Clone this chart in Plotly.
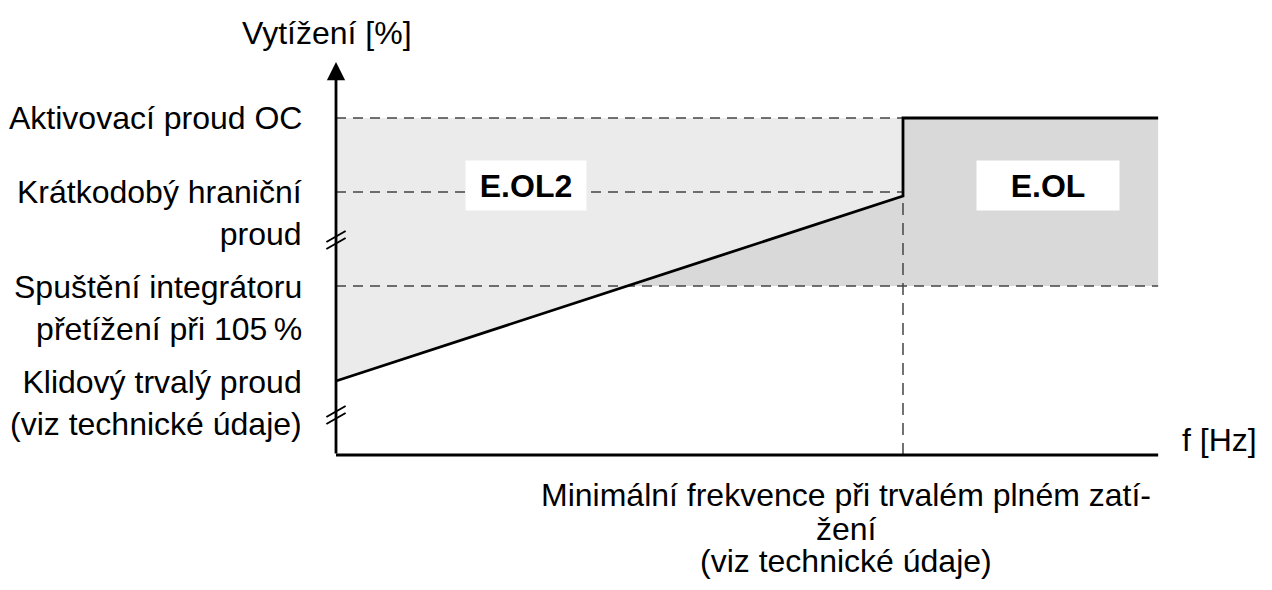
import plotly.graph_objects as go

# frequency axis (schematic units: knee frequency = 100)
f_knee = 100
f_end = 145

# load levels (schematic units)
lvl_oc = 337       # Aktivovací proud OC
lvl_short = 263    # Krátkodobý hraniční proud
lvl_int = 169      # Spuštění integrátoru přetížení při 105 %
lvl_idle = 74      # Klidový trvalý proud
knee_val = 259     # value of the slope at the knee frequency
y_top = 393        # arrow tip
breaks = [215, 40]

curve_f = [0, f_knee, f_knee, f_end]
curve_y = [lvl_idle, knee_val, lvl_oc, lvl_oc]

left_labels = [
    ("Aktivovací proud OC", lvl_oc),
    ("Krátkodobý hraniční<br>proud", 242),
    ("Spuštění integrátoru<br>přetížení při 105\u2009%", 147),
    ("Klidový trvalý proud<br>(viz technické údaje)", 52),
]
bottom_lines = ["Minimální frekvence při trvalém plném zatí-", "žení", "(viz technické údaje)"]
bottom_y = [-40, -74, -106]

FONT = "Liberation Sans, Arial, sans-serif"
FS = 32
DASH = "10px,7px"
GRID = "#444444"

fig = go.Figure()

# dark region (E.OL) under everything
fig.add_trace(go.Scatter(x=[0, f_end, f_end, 0, 0], y=[lvl_int, lvl_int, lvl_oc, lvl_oc, lvl_int],
                         fill="toself", fillcolor="#d9d9d9", line=dict(width=0), mode="lines"))
# light region (E.OL2) above the slope
fig.add_trace(go.Scatter(x=[0, f_knee, f_knee, 0, 0], y=[lvl_idle, knee_val, lvl_oc, lvl_oc, lvl_idle],
                         fill="toself", fillcolor="#ebebeb", line=dict(width=0), mode="lines"))

# dashed reference lines
for yv, xe in [(lvl_oc, f_knee), (lvl_short, f_knee), (lvl_int, f_end)]:
    fig.add_trace(go.Scatter(x=[0, xe], y=[yv, yv], mode="lines",
                             line=dict(color=GRID, width=1.5, dash=DASH)))
fig.add_trace(go.Scatter(x=[f_knee, f_knee], y=[0, knee_val], mode="lines",
                         line=dict(color=GRID, width=1.5, dash="12px,8px")))

# characteristic
fig.add_trace(go.Scatter(x=curve_f, y=curve_y, mode="lines", line=dict(color="black", width=2.8)))

# axes
fig.add_trace(go.Scatter(x=[0, f_end], y=[0, 0], mode="lines", line=dict(color="black", width=2.8)))
fig.add_annotation(x=0, y=y_top, ax=0, ay=0, xref="x", yref="y", axref="x", ayref="y",
                   showarrow=True, arrowhead=2, arrowsize=1.3, arrowwidth=2.8, arrowcolor="black", text="")

# axis break marks
for b in breaks:
    for off in (3.5, -3.5):
        fig.add_trace(go.Scatter(x=[-1.7, 1.7], y=[b + off - 5.5, b + off + 5.5], mode="lines",
                                 line=dict(color="black", width=2)))

for txt, yv in left_labels:
    fig.add_annotation(x=-5.6, y=yv, text=txt, showarrow=False, xanchor="right", yanchor="middle",
                       align="right", font=dict(family=FONT, size=FS, color="black"))

fig.add_annotation(x=-1.6, y=422, text="Vytížení [%]", showarrow=False, xanchor="center", yanchor="middle",
                   font=dict(family=FONT, size=FS, color="black"))
fig.add_annotation(x=148.9, y=15, text="f [Hz]", showarrow=False, xanchor="left", yanchor="middle",
                   font=dict(family=FONT, size=FS, color="black"))

for line, yv in zip(bottom_lines, bottom_y):
    fig.add_annotation(x=90, y=yv, text=line, showarrow=False, xanchor="center", yanchor="middle",
                       font=dict(family=FONT, size=FS, color="black"))

# region labels
for txt, xc, w in [("E.OL2", 33.5, 118), ("E.OL", 125.6, 140)]:
    fig.add_annotation(x=xc, y=269.5, text="<b>" + txt + "</b>", showarrow=False, bgcolor="white",
                       width=w, height=47, font=dict(family=FONT, size=FS, color="black"))

# page body has an 8px margin, so the figure is 16px smaller than the window
fig.update_xaxes(visible=False, range=[-328 / 5.67, (1256 - 328) / 5.67])
fig.update_yaxes(visible=False, range=[-127, 447])
fig.update_layout(width=1256, height=574, margin=dict(l=0, r=0, t=0, b=0),
                  plot_bgcolor="white", paper_bgcolor="white", showlegend=False)

fig.write_html("out.html")
